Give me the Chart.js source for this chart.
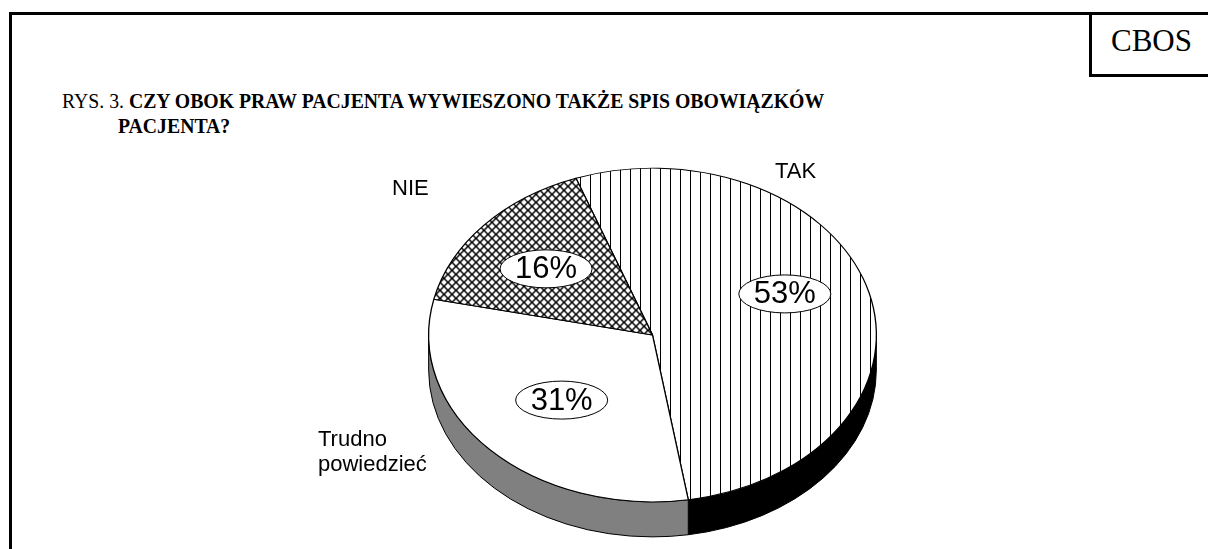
<!DOCTYPE html>
<html><head><meta charset="utf-8">
<script src="https://cdn.jsdelivr.net/npm/chart.js@4.4.0/dist/chart.umd.min.js"></script>
<style>
html,body{margin:0;padding:0;background:#fff;overflow:hidden;width:1208px;height:549px}
#wrap{position:relative;width:1208px;height:549px;overflow:hidden}
canvas{position:absolute;left:0;top:0}
.t{position:absolute;white-space:nowrap;color:#000}
.frame{position:absolute;left:9px;top:12px;width:1400px;height:800px;border-left:3px solid #000;border-top:3px solid #000}
.cbos{position:absolute;left:1089px;top:12px;width:300px;height:59px;border:3px solid #000;box-sizing:content-box}
.cbostxt{position:absolute;left:1089px;top:25px;width:125px;text-align:center;font:31px/32px "Liberation Serif","Times New Roman",serif}
.title{font:21px/26px "Liberation Serif","Times New Roman",serif;transform:scaleX(0.94);transform-origin:0 0}
.lab{font:22px/25px "Liberation Sans",Arial,sans-serif}
</style></head><body>
<div id="wrap">
<div class="frame"></div>
<div class="cbos"></div>
<div class="cbostxt">CBOS</div>
<div class="t title" style="left:62px;top:88px">RYS. 3. <b>CZY OBOK PRAW PACJENTA WYWIESZONO TAKŻE SPIS OBOWIĄZKÓW</b></div>
<div class="t title" style="left:118px;top:113px"><b>PACJENTA?</b></div>
<canvas id="c" width="1208" height="549"></canvas>
<div class="t lab" style="left:775px;top:158px">TAK</div>
<div class="t lab" style="left:392px;top:175px">NIE</div>
<div class="t lab" style="left:318px;top:426px">Trudno<br>powiedzieć</div>
</div>
<script>
const categories = ['TAK', 'Trudno powiedzieć', 'NIE'];
const values = [53, 31, 16];
const sideColors = ['#000000', '#808080', '#404040'];

const K = 167 / 224;     // vertical squash of the tilted pie
const CY = 335;          // screen y of pie centre
const DEPTH = 35;        // thickness of the pie
const LABEL_R = 0.62;
const labelNudge = [[-2, -15], [10, -6], [-2, 2]];

const cv = document.getElementById('c');
const c2 = cv.getContext('2d');

function vLinePattern() {
  const c = document.createElement('canvas'); c.width = 10; c.height = 10;
  const g = c.getContext('2d');
  g.fillStyle = '#fff'; g.fillRect(0, 0, 10, 10);
  g.fillStyle = '#000'; g.fillRect(0, 0, 1, 10);
  return c2.createPattern(c, 'repeat');
}
function crossPattern() {
  const s = 8;
  const c = document.createElement('canvas'); c.width = s; c.height = s;
  const g = c.getContext('2d');
  g.fillStyle = '#fff'; g.fillRect(0, 0, s, s);
  g.strokeStyle = '#000'; g.lineWidth = 1.5;
  for (const d of [-s, 0, s]) {
    g.beginPath(); g.moveTo(d, 0); g.lineTo(d + s, s); g.stroke();
    g.beginPath(); g.moveTo(d + s, 0); g.lineTo(d, s); g.stroke();
  }
  const p = c2.createPattern(c, 'repeat');
  p.setTransform(new DOMMatrix().scale(1, 1 / K));
  return p;
}
const fills = [vLinePattern(), '#ffffff', crossPattern()];

const pie3d = {
  id: 'pie3d',
  beforeDatasetsDraw(chart) {
    const ctx = chart.ctx;
    const arcs = chart.getDatasetMeta(0).data;
    const a0 = arcs[0];
    const cx = a0.x, r = a0.outerRadius, ry = r * K;
    ctx.save();
    arcs.forEach((arc, i) => {
      const s = arc.startAngle, e = arc.endAngle;
      for (const off of [-2 * Math.PI, 0, 2 * Math.PI]) {
        const a = Math.max(s + off, 0), b = Math.min(e + off, Math.PI);
        if (b > a) {
          ctx.beginPath();
          ctx.ellipse(cx, CY, r, ry, 0, a, b, false);
          ctx.ellipse(cx, CY + DEPTH, r, ry, 0, b, a, true);
          ctx.closePath();
          ctx.fillStyle = sideColors[i];
          ctx.fill();
          ctx.lineWidth = 1;
          ctx.strokeStyle = '#000';
          ctx.stroke();
        }
      }
    });
    ctx.restore();
    ctx.save();
    ctx.translate(0, CY - a0.y * K);
    ctx.scale(1, K);
  },
  afterDatasetsDraw(chart) {
    const ctx = chart.ctx;
    ctx.restore();
    const arcs = chart.getDatasetMeta(0).data;
    const total = values.reduce((a, b) => a + b, 0);
    const cx = arcs[0].x, r = arcs[0].outerRadius, ry = r * K;
    ctx.save();
    ctx.font = '31px "Liberation Sans", Arial, sans-serif';
    arcs.forEach((arc, i) => {
      const mid = (arc.startAngle + arc.endAngle) / 2;
      const x = cx + r * LABEL_R * Math.cos(mid) + labelNudge[i][0];
      const y = CY + ry * LABEL_R * Math.sin(mid) + labelNudge[i][1];
      const txt = Math.round(values[i] / total * 100) + '%';
      const w = ctx.measureText(txt).width;
      ctx.beginPath();
      ctx.ellipse(x, y, w / 2 + 15, 19, 0, 0, 2 * Math.PI);
      ctx.fillStyle = '#fff'; ctx.fill();
      ctx.lineWidth = 1; ctx.strokeStyle = '#000'; ctx.stroke();
      ctx.fillStyle = '#000';
      ctx.textAlign = 'center'; ctx.textBaseline = 'middle';
      ctx.fillText(txt, x, y + 1);
    });
    ctx.restore();
  }
};

new Chart(cv, {
  type: 'pie',
  data: {
    labels: categories,
    datasets: [{
      data: values,
      backgroundColor: fills,
      borderColor: '#000',
      borderWidth: 1.3,
      hoverOffset: 0
    }]
  },
  options: {
    responsive: false,
    animation: false,
    events: [],
    devicePixelRatio: 1,
    rotation: -20,
    layout: { padding: { left: 428, right: 331, top: 50, bottom: 50 } },
    plugins: { legend: { display: false }, tooltip: { enabled: false } }
  },
  plugins: [pie3d]
});
</script>
</body></html>
